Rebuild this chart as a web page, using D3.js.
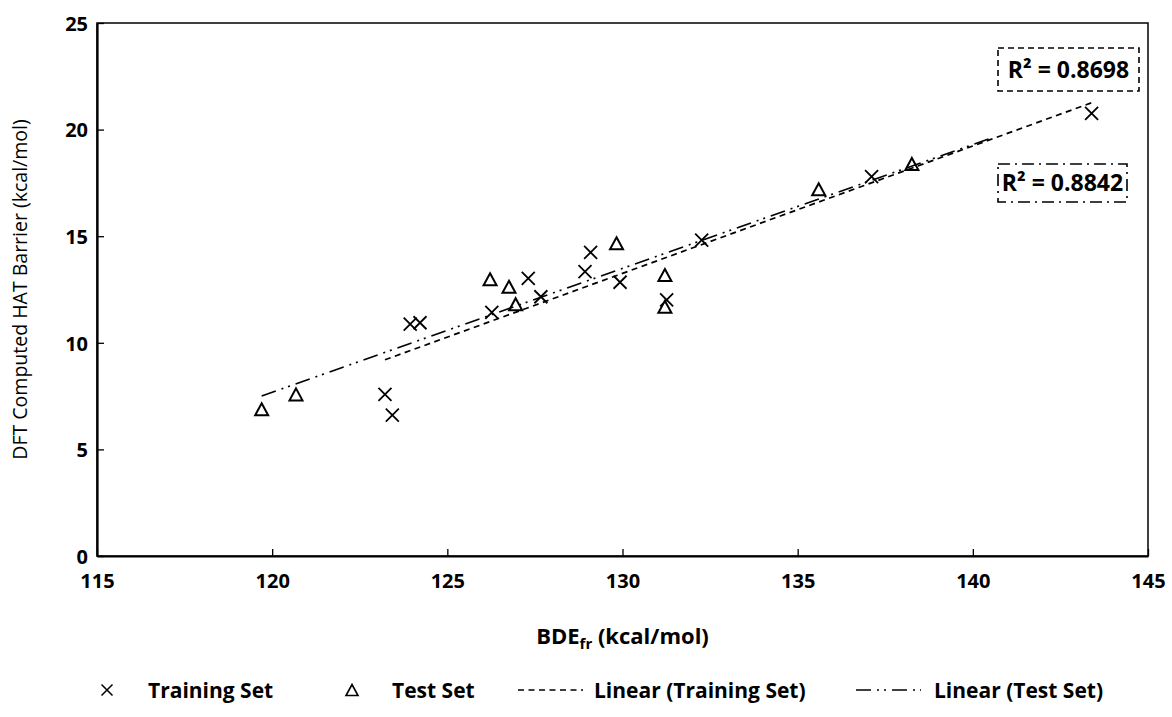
<!DOCTYPE html>
<html><head><meta charset="utf-8">
<script src="https://cdn.jsdelivr.net/npm/d3@7"></script>
<style>
html,body{margin:0;padding:0;background:#fff;}
svg{display:block;font-family:"Open Sans","Lato",sans-serif;}
</style></head>
<body><svg id="c" width="1172" height="717"></svg>
<script>
// ---- data ----
const trainX = [123.22,123.43,123.94,124.22,126.27,127.31,127.67,128.93,129.09,129.93,131.26,132.26,137.11,143.39];
const trainY = [7.58,6.61,10.88,10.94,11.43,13.02,12.16,13.34,14.24,12.84,12.01,14.82,17.79,20.76];
const testX = [119.70,120.68,126.22,126.76,126.95,129.83,131.21,131.21,135.6,138.26];
const testY = [6.88,7.58,12.98,12.63,11.81,14.67,13.18,11.69,17.2,18.39];
const xTicks = [115,120,125,130,135,140,145];
const yTicks = [0,5,10,15,20,25];
const r2Labels = ["R² = 0.8698","R² = 0.8842"];
const testForecastForward = 2.3;
const legendLabels = ["Training Set","Test Set","Linear (Training Set)","Linear (Test Set)"];

const FONT = "'Open Sans', Lato, sans-serif";
const svg = d3.select("#c");
const x = d3.scaleLinear().domain([115,145]).range([97,1148]);
const y = d3.scaleLinear().domain([0,25]).range([556,23]);

// plot border (top/right)
svg.append("rect").attr("x",x(115)).attr("y",y(25)).attr("width",x(145)-x(115)).attr("height",y(0)-y(25))
  .attr("fill","none").attr("stroke","#000").attr("stroke-width",1.5);

// axes
const gx = svg.append("g").attr("transform",`translate(0,${y(0)})`)
  .call(d3.axisBottom(x).tickValues(xTicks).tickSize(-7).tickPadding(18).tickSizeOuter(0));
const gy = svg.append("g").attr("transform",`translate(${x(115)},0)`)
  .call(d3.axisLeft(y).tickValues(yTicks).tickSize(-7).tickPadding(9).tickSizeOuter(0));
[gx,gy].forEach(g=>{
  g.select(".domain").attr("stroke","#000").attr("stroke-width",2.2);
  g.selectAll(".tick line").attr("stroke","#000").attr("stroke-width",1.3);
  g.selectAll(".tick text").attr("fill","#000").attr("font-size",20).attr("font-weight","bold")
   .attr("font-family",FONT);
});
gy.selectAll(".tick text").attr("dy","0.36em");

// axis titles
const xt = svg.append("text").attr("x",(x(115)+x(145))/2).attr("y",644).attr("text-anchor","middle")
  .attr("font-size",22).attr("font-weight","bold");
xt.append("tspan").text("BDE");
xt.append("tspan").attr("font-size",15).attr("dy",5).text("fr");
xt.append("tspan").attr("dy",-5).text(" (kcal/mol)");
svg.append("text").attr("transform",`translate(27,${(y(0)+y(25))/2}) rotate(-90)`)
  .attr("text-anchor","middle").attr("font-size",19.5).text("DFT Computed HAT Barrier (kcal/mol)");

// regression helper
function fit(xs,ys){
  const mx=d3.mean(xs), my=d3.mean(ys);
  let sxy=0,sxx=0; xs.forEach((v,i)=>{sxy+=(v-mx)*(ys[i]-my);sxx+=(v-mx)**2;});
  const b=sxy/sxx; return {b,a:my-b*mx};
}
const trainDash = "6,4.5";
const testDash = "15,6,2,5,2,6";
function trend(xs,ys,x0,x1,dash){
  const f=fit(xs,ys);
  svg.append("line").attr("x1",x(x0)).attr("y1",y(f.a+f.b*x0)).attr("x2",x(x1)).attr("y2",y(f.a+f.b*x1))
    .attr("stroke","#000").attr("stroke-width",1.7).attr("stroke-dasharray",dash);
}
trend(trainX,trainY,d3.min(trainX),d3.max(trainX),trainDash);
trend(testX,testY,d3.min(testX),d3.max(testX)+testForecastForward,testDash);

// markers
const xPath = s=>`M${-s},${-s}L${s},${s}M${-s},${s}L${s},${-s}`;
const triPath = (w,h)=>`M0,${-h/2}L${w/2},${h/2}L${-w/2},${h/2}Z`;
svg.append("g").selectAll("path").data(trainX.map((v,i)=>[v,trainY[i]])).join("path")
  .attr("transform",d=>`translate(${x(d[0])},${y(d[1])})`).attr("d",xPath(6.5))
  .attr("fill","none").attr("stroke","#000").attr("stroke-width",1.8);
svg.append("g").selectAll("path").data(testX.map((v,i)=>[v,testY[i]])).join("path")
  .attr("transform",d=>`translate(${x(d[0])},${y(d[1])})`).attr("d",triPath(13,12))
  .attr("fill","none").attr("stroke","#000").attr("stroke-width",2).attr("stroke-linejoin","miter");

// R² boxes
const boxes=[{x0:998,y0:48,x1:1139,y1:91,dash:"6,4"},{x0:998,y0:164,x1:1127,y1:202,dash:"12,5,2,5"}];
boxes.forEach((b,i)=>{
  svg.append("rect").attr("x",b.x0).attr("y",b.y0).attr("width",b.x1-b.x0).attr("height",b.y1-b.y0)
    .attr("fill","#fff").attr("stroke","#000").attr("stroke-width",1.6).attr("stroke-dasharray",b.dash);
  svg.append("text").attr("x",(b.x0+b.x1)/2).attr("y",(b.y0+b.y1)/2).attr("dy","0.36em")
    .attr("text-anchor","middle").attr("font-size",23).attr("font-weight","bold").text(r2Labels[i]);
});

// legend
const ly=690;
const lg=svg.append("g");
lg.append("path").attr("transform",`translate(107,${ly})`).attr("d",xPath(5.5)).attr("fill","none").attr("stroke","#000").attr("stroke-width",1.5);
lg.append("path").attr("transform",`translate(352,${ly})`).attr("d",triPath(12,11)).attr("fill","none").attr("stroke","#000").attr("stroke-width",1.6);
lg.append("line").attr("x1",518).attr("x2",583).attr("y1",ly).attr("y2",ly).attr("stroke","#000").attr("stroke-width",1.6).attr("stroke-dasharray",trainDash);
lg.append("line").attr("x1",856).attr("x2",921).attr("y1",ly).attr("y2",ly).attr("stroke","#000").attr("stroke-width",1.6).attr("stroke-dasharray",testDash);
const lx=[148,392,594,934];
legendLabels.forEach((t,i)=>{
  lg.append("text").attr("x",lx[i]).attr("y",ly).attr("dy","0.36em").attr("font-size",21).attr("font-weight","bold").text(t);
});
</script></body></html>
